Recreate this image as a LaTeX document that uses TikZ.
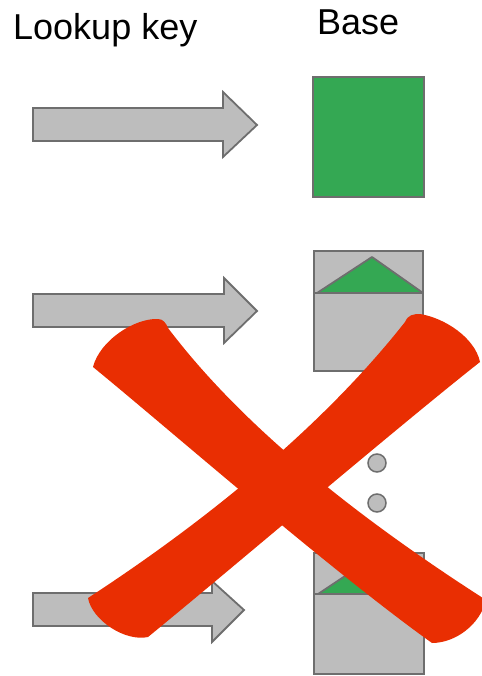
\documentclass[tikz,border=0pt]{standalone}
\usepackage{fontspec}
\setmainfont{Liberation Sans}
\definecolor{boxgray}{HTML}{BDBDBD}
\definecolor{edgegray}{HTML}{6E6E6E}
\definecolor{ggreen}{HTML}{34A853}
\definecolor{xred}{HTML}{E92E02}
\begin{document}
\begin{tikzpicture}[x=1pt,y=-1pt,
  lbl/.style={font=\fontsize{36}{40}\selectfont, anchor=base west, inner sep=0pt},
  blockarrow/.style={fill=boxgray, draw=edgegray, line width=1.8pt, line join=miter},
  graybox/.style={fill=boxgray, draw=edgegray, line width=1.8pt},
  greenpart/.style={fill=ggreen, draw=edgegray, line width=1.8pt, line join=round},
  dot/.style={circle, fill=boxgray, draw=edgegray, line width=1.5pt, minimum size=18pt, inner sep=0pt},
  crossmark/.style={fill=xred}]
\path[use as bounding box] (0,0) rectangle (481,676);

% labels
\node[lbl] (lookup) at (13,40) {Lookup key};
\node[lbl] (base) at (317,35) {Base};

% block arrows
\draw[blockarrow] (33,108) -- (223,108) -- (223,92) -- (257,125) -- (223,157) -- (223,141) -- (33,141) -- cycle;
\draw[blockarrow] (33,294) -- (224,294) -- (224,278) -- (257,311) -- (224,343) -- (224,327) -- (33,327) -- cycle;
\draw[blockarrow] (33,593) -- (212,593) -- (212,581) -- (244,610) -- (212,642) -- (212,626) -- (33,626) -- cycle;

% first entry: full green square
\draw[greenpart, line join=miter] (313,77) rectangle (424,197);

% second entry
\draw[graybox] (314,251) rectangle (423,371);
\draw[edgegray, line width=1.8pt] (314,293) -- (423,293);
\draw[greenpart] (317,293) -- (372,257) -- (423,293) -- cycle;

% dots
\node[dot] (d1) at (377,463) {};
\node[dot] (d2) at (377,503) {};

% third entry
\draw[graybox] (314,553) rectangle (424,674);
\draw[edgegray, line width=1.8pt] (314,594) -- (424,594);
\draw[greenpart] (318,594) -- (372,558) -- (424,594) -- cycle;

% red cross: stroke A (top-left to bottom-right)
\fill[crossmark]
  (93,367) .. controls (100,340) and (135,318) .. (158,319)
  .. controls (163,319) and (166,323) .. (168,328)
  .. controls (230,410) and (330,500) .. (486,600)
  .. controls (480,625) and (455,643) .. (432,643)
  .. controls (330,570) and (170,430) .. (93,367) -- cycle;
% stroke B (top-right to bottom-left)
\fill[crossmark]
  (405,322) .. controls (408,315) and (413,314) .. (420,314)
  .. controls (445,318) and (475,338) .. (480,362)
  .. controls (400,425) and (230,570) .. (148,637)
  .. controls (125,642) and (92,620) .. (88,598)
  .. controls (200,525) and (320,430) .. (405,322) -- cycle;
\end{tikzpicture}
\end{document}
